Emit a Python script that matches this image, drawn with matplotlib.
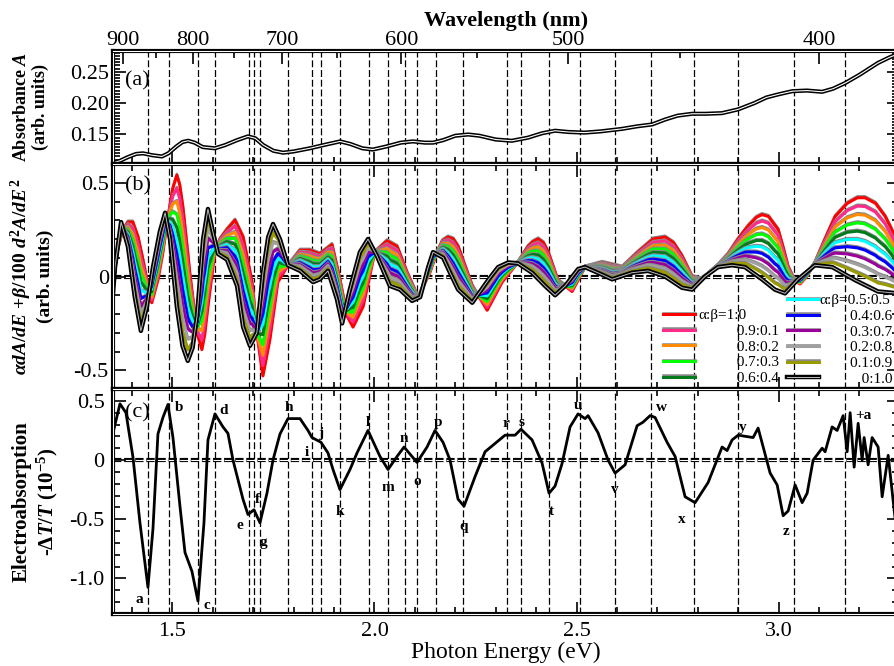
import numpy as np
import matplotlib
matplotlib.use("Agg")
import matplotlib.pyplot as plt
import matplotlib.patheffects as pe
from matplotlib.ticker import FixedLocator, MultipleLocator

plt.rcParams['font.family'] = ['Liberation Serif', 'DejaVu Serif']
plt.rcParams['mathtext.fontset'] = 'custom'
plt.rcParams['mathtext.rm'] = 'Liberation Serif:bold'
plt.rcParams['mathtext.it'] = 'Liberation Serif:italic:bold'
plt.rcParams['mathtext.bf'] = 'Liberation Serif:bold'
plt.rcParams['axes.unicode_minus'] = False
plt.rcParams['lines.scale_dashes'] = False

# ---------------------------------------------------------------- datos
# (a) absorbancia
e_abs = [1.353, 1.37, 1.39, 1.41, 1.427, 1.45, 1.474, 1.49, 1.51, 1.525, 1.539, 1.555, 1.575,
         1.605, 1.63, 1.66, 1.687, 1.705, 1.725, 1.75, 1.774, 1.80, 1.84, 1.88, 1.915, 1.94,
         1.97, 1.996, 2.03, 2.065, 2.095, 2.125, 2.145, 2.17, 2.2, 2.232, 2.26, 2.30, 2.34,
         2.38, 2.415, 2.447, 2.48, 2.52, 2.56, 2.613, 2.65, 2.687, 2.72, 2.75, 2.786, 2.82,
         2.86, 2.90, 2.94, 2.97, 3.00, 3.034, 3.07, 3.108, 3.135, 3.165, 3.20, 3.246, 3.275, 3.298]
absorbancia = [0.105, 0.108, 0.114, 0.119, 0.120, 0.117, 0.115, 0.120, 0.131, 0.138, 0.140, 0.137, 0.130,
               0.128, 0.133, 0.141, 0.147, 0.144, 0.133, 0.124, 0.121, 0.123, 0.128, 0.134, 0.139, 0.135,
               0.128, 0.126, 0.131, 0.137, 0.139, 0.137, 0.137, 0.141, 0.148, 0.150, 0.148, 0.142, 0.140,
               0.145, 0.152, 0.156, 0.154, 0.153, 0.155, 0.159, 0.163, 0.166, 0.174, 0.180, 0.183, 0.183,
               0.184, 0.190, 0.200, 0.209, 0.214, 0.219, 0.220, 0.218, 0.223, 0.232, 0.245, 0.264, 0.273, 0.279]

# (b) curva alfa=1 (dA/dE) y curva beta=1 (d2A/dE2 / 100)
e_rojo = [1.353, 1.365, 1.378, 1.390, 1.402, 1.415, 1.427, 1.437, 1.449, 1.464, 1.476, 1.487, 1.501,
          1.511, 1.518, 1.526, 1.535, 1.543, 1.561, 1.573, 1.580, 1.588, 1.605, 1.618, 1.635, 1.655,
          1.675, 1.697, 1.712, 1.724, 1.741, 1.761, 1.786, 1.816, 1.840, 1.865, 1.895, 1.915, 1.932,
          1.947, 1.972, 2.001, 2.031, 2.056, 2.081, 2.108, 2.137, 2.155, 2.168, 2.182, 2.195, 2.207,
          2.242, 2.279, 2.316, 2.355, 2.380, 2.392, 2.405, 2.418, 2.430, 2.454, 2.489, 2.521, 2.563,
          2.613, 2.652, 2.69, 2.719, 2.74, 2.761, 2.786, 2.811, 2.850, 2.875, 2.900, 2.925, 2.945,
          2.959, 2.975, 2.999, 3.012, 3.024, 3.04, 3.053, 3.07, 3.090, 3.115, 3.140, 3.17, 3.195,
          3.214, 3.24, 3.264, 3.28, 3.298]
deriv1 = [-0.02, 0.15, 0.25, 0.29, 0.29, 0.21, 0.09, -0.02, -0.14, -0.02, 0.12, 0.29, 0.47,
          0.54, 0.49, 0.37, 0.19, 0.02, -0.30, -0.39, -0.31, -0.16, 0.13, 0.20, 0.25, 0.30,
          0.21, -0.03, -0.35, -0.53, -0.34, -0.03, 0.06, 0.14, 0.14, 0.12, 0.17, -0.02, -0.21,
          -0.27, -0.16, 0.13, 0.19, 0.16, 0.02, -0.11, 0.02, 0.13, 0.19, 0.21, 0.20, 0.16,
          -0.05, -0.18, -0.03, 0.075, 0.16, 0.185, 0.20, 0.18, 0.13, -0.02, -0.08, 0.05, 0.075,
          0.05, 0.13, 0.20, 0.21, 0.18, 0.11, 0.0, -0.015, 0.06, 0.12, 0.20, 0.27, 0.315,
          0.33, 0.32, 0.25, 0.15, 0.05, -0.02, -0.04, 0.0, 0.075, 0.20, 0.32, 0.39, 0.42,
          0.42, 0.39, 0.32, 0.25, 0.16]

e_negro = [1.353, 1.358, 1.373, 1.390, 1.407, 1.422, 1.437, 1.452, 1.469, 1.482, 1.494, 1.511, 1.525,
           1.538, 1.550, 1.561, 1.576, 1.588, 1.600, 1.613, 1.635, 1.660, 1.675, 1.692, 1.709, 1.724,
           1.737, 1.749, 1.766, 1.786, 1.816, 1.848, 1.865, 1.885, 1.907, 1.920, 1.939, 1.964, 1.984,
           2.006, 2.038, 2.063, 2.093, 2.113, 2.133, 2.145, 2.170, 2.187, 2.207, 2.242, 2.281, 2.306,
           2.331, 2.355, 2.390, 2.422, 2.447, 2.472, 2.504, 2.521, 2.553, 2.588, 2.637, 2.677, 2.719,
           2.761, 2.786, 2.818, 2.850, 2.885, 2.917, 2.959, 2.991, 3.016, 3.048, 3.090, 3.133, 3.190,
           3.246, 3.298]
deriv2 = [-0.09, 0.05, 0.29, 0.16, -0.11, -0.29, -0.16, 0.05, 0.24, 0.34, 0.20, -0.16, -0.37,
          -0.45, -0.38, -0.21, 0.20, 0.36, 0.24, 0.12, 0.09, -0.05, -0.27, -0.37, -0.30, 0.02,
          0.21, 0.28, 0.20, 0.06, 0.03, -0.03, -0.015, 0.03, -0.12, -0.25, -0.07, 0.13, 0.20,
          0.11, -0.05, -0.07, -0.13, -0.11, 0.05, 0.13, 0.10, 0.02, -0.07, -0.14, -0.02, 0.05,
          0.075, 0.07, 0.02, -0.05, -0.10, -0.05, 0.04, 0.05, 0.02, -0.015, 0.02, 0.03, 0.0,
          -0.06, -0.07, 0.0, 0.05, 0.06, 0.05, -0.015, -0.07, -0.09, -0.015, 0.06, 0.05, -0.02,
          -0.08, -0.09]

alfas = [1.0, 0.9, 0.8, 0.7, 0.6, 0.5, 0.4, 0.3, 0.2, 0.1, 0.0]
colores = ['#ff0000', '#ff2a8a', '#ff8c00', '#00ff00', '#007a1a', '#00ffff',
           '#0000ff', '#990099', '#a0a0a0', '#999900', '#000000']
etiquetas = ['α:β=1:0', '0.9:0.1', '0.8:0.2', '0.7:0.3', '0.6:0.4', 'α:β=0.5:0.5',
             '0.4:0.6', '0.3:0.7', '0.2:0.8', '0.1:0.9', '0:1.0']

# (c) electroabsorcion
e_ea = [1.3528, 1.3702, 1.385, 1.4024, 1.4197, 1.4395, 1.4519, 1.4642, 1.4766, 1.4890, 1.5014, 1.5187,
        1.5311, 1.5484, 1.5632, 1.5781, 1.5880, 1.6053, 1.6251, 1.6375, 1.6499, 1.6746, 1.6870, 1.7019,
        1.7167, 1.7340, 1.7489, 1.7662, 1.7860, 1.8157, 1.8355, 1.8454, 1.8677, 1.8850, 1.8974, 1.9147,
        1.9394, 1.9568, 1.9840, 2.0137, 2.0336, 2.0558, 2.0732, 2.0930, 2.1053, 2.1301, 2.1499, 2.1697,
        2.1870, 2.2068, 2.2217, 2.2489, 2.2737, 2.2984, 2.3231, 2.3479, 2.3627, 2.3900, 2.4147, 2.4320,
        2.4469, 2.4642, 2.4840, 2.5038, 2.5212, 2.5286, 2.5533, 2.5781, 2.5954, 2.6202, 2.6499, 2.6647,
        2.6821, 2.6944, 2.7241, 2.7440, 2.7687, 2.7934, 2.8256, 2.8602, 2.8726, 2.8850, 2.8999, 2.9370,
        2.9494, 2.9791, 2.9965, 3.0113, 3.0237, 3.0410, 3.0583, 3.0707, 3.0855, 3.1078, 3.1152, 3.1325,
        3.1449, 3.1598, 3.1697, 3.1771, 3.1870, 3.1969, 3.2068, 3.2117, 3.2216, 3.2315, 3.2464, 3.2563,
        3.2712, 3.2885]
ea = [0.225, 0.475, 0.40, 0.025, -0.53, -1.075, -0.58, 0.22, 0.36, 0.47, 0.19, -0.39,
      -0.78, -0.94, -1.19, -0.53, 0.17, 0.39, 0.28, 0.225, 0.0, -0.33, -0.46, -0.42,
      -0.53, -0.28, 0.0, 0.22, 0.35, 0.35, 0.25, 0.19, 0.15, 0.06, -0.08, -0.25,
      -0.08, 0.06, 0.25, 0.03, -0.08, 0.03, 0.11, 0.03, -0.02, 0.11, 0.25, 0.15,
      0.0, -0.33, -0.39, -0.14, 0.07, 0.14, 0.21, 0.21, 0.26, 0.17, -0.025, -0.28,
      -0.22, -0.03, 0.28, 0.39, 0.35, 0.375, 0.23, 0.0, -0.11, -0.04, 0.29, 0.32,
      0.375, 0.36, 0.15, 0.03, -0.31, -0.36, -0.19, 0.11, 0.08, 0.17, 0.21, 0.19,
      0.27, -0.11, -0.21, -0.47, -0.43, -0.21, -0.36, -0.28, 0.0, 0.10, 0.07, 0.28,
      0.25, 0.375, 0.07, 0.40, -0.06, 0.31, 0.0, 0.19, -0.04, 0.19, 0.11, -0.31,
      0.04, -0.50]

# lineas verticales discontinuas (energias de las transiciones)
transiciones = [1.44, 1.4915, 1.563, 1.605, 1.6895, 1.702, 1.7167, 1.786, 1.8454, 1.8677, 1.9147,
                1.9865, 2.0336, 2.0756, 2.1053, 2.1524, 2.2192, 2.3281, 2.3628, 2.432, 2.5088,
                2.5954, 2.6845, 2.7909, 2.900, 3.0385, 3.1648]
letras = ['a', 'b', 'c', 'd', 'e', 'f', 'g', 'h', 'i', 'j', 'k', 'l', 'm', 'n', 'o', 'p', 'q',
          'r', 's', 't', 'u', 'v', 'w', 'x', 'y', 'z', '+a']
letras_e = [1.4172, 1.5162, 1.5855, 1.6276, 1.6672, 1.7093, 1.7241, 1.7885, 1.8330, 1.8677, 1.9147,
            1.9840, 2.0336, 2.0732, 2.1053, 2.1573, 2.2217, 2.3256, 2.3627, 2.4370, 2.5038, 2.5954,
            2.7093, 2.7613, 2.9123, 3.0187, 3.2093]
letras_v = [-1.175, 0.442, -1.225, 0.417, -0.55, -0.333, -0.70, 0.442, 0.067, 0.225, -0.433,
            0.317, -0.233, 0.183, -0.183, 0.317, -0.558, 0.308, 0.317, -0.433, 0.458, -0.25,
            0.442, -0.50, 0.275, -0.60, 0.375]

# ---------------------------------------------------------------- figura
fig = plt.figure(figsize=(8.95, 6.66), dpi=100)
izq, ancho = 113 / 895, 786 / 895
ax_a = fig.add_axes([izq, (666 - 164) / 666, ancho, 113 / 666])
ax_b = fig.add_axes([izq, (666 - 389) / 666, ancho, 225 / 666])
ax_c = fig.add_axes([izq, (666 - 614) / 666, ancho, 225 / 666])

doble = [pe.Stroke(linewidth=3.0, foreground='black'), pe.Stroke(linewidth=0.8, foreground='white')]


def estilo(ax):
    # ejes, ticks hacia dentro y lineas verticales
    ax.set_xlim(1.353, 3.298)
    ax.xaxis.set_major_locator(MultipleLocator(0.5))
    ax.xaxis.set_minor_locator(MultipleLocator(0.1))
    ax.tick_params(which='both', direction='in', top=True, bottom=True, left=True, right=True,
                   labelsize=16, width=1.2, pad=3, labelbottom=False)
    ax.tick_params(which='major', length=9)
    ax.tick_params(which='minor', length=5)
    for s in ax.spines.values():
        s.set_linewidth(3)
        s.set_path_effects(doble)
    for e in transiciones:
        ax.axvline(e, color='black', lw=0.9, ls=(0, (5, 2)), zorder=1)


for ax in (ax_a, ax_b, ax_c):
    estilo(ax)

# ---- (a)
ax_a.plot(e_abs, absorbancia, color='black', lw=3, path_effects=doble)
ax_a.set_ylim(0.103, 0.283)
ax_a.set_yticks([0.15, 0.20, 0.25])
ax_a.set_yticklabels(['0.15', '0.20', '0.25'])
ax_a.yaxis.set_minor_locator(MultipleLocator(0.005))
ax_a.tick_params(top=False, which='both')
ax_a.text(0.015, 0.74, '(a)', transform=ax_a.transAxes, fontsize=16, va='center')
ax_a.text(-0.104, 0.5, 'Absorbance $A$\n(arb. units)', transform=ax_a.transAxes, rotation=90,
          ha='center', va='center', fontsize=13, fontweight='bold', multialignment='center',
          linespacing=1.15)


def ev2nm(x):
    x = np.asarray(x, dtype=float)
    with np.errstate(divide='ignore'):
        return np.where(x == 0, np.inf, 1239.84 / x)


sec = ax_a.secondary_xaxis('top', functions=(ev2nm, ev2nm))
sec.set_xticks([900, 800, 700, 600, 500, 400])
sec.xaxis.set_minor_locator(FixedLocator([850, 750, 650, 550, 450]))
sec.tick_params(which='both', direction='in', labelsize=16, width=1.2, pad=1)
sec.tick_params(which='major', length=9)
sec.tick_params(which='minor', length=5)
sec.spines['top'].set_visible(False)
sec.set_xlabel('Wavelength (nm)', fontsize=16, fontweight='bold', labelpad=3)

# ---- (b)
e_b = np.union1d(e_rojo, e_negro)
rojo = np.interp(e_b, e_rojo, deriv1)
negro = np.interp(e_b, e_negro, deriv2)
lineas = []
for alfa, color, etiqueta in zip(alfas, colores, etiquetas):
    if alfa == 0.0:
        efectos = [pe.Stroke(linewidth=3.2, foreground='black'), pe.Stroke(linewidth=0.7, foreground='#bbbbbb')]
        ancho_l = 3.2
    else:
        efectos = [pe.Stroke(offset=(0, 1.0), linewidth=1.8, foreground='#888888'), pe.Normal()]
        ancho_l = 2.2
    l, = ax_b.plot(e_b, alfa * rojo + (1 - alfa) * negro, color=color, lw=ancho_l,
                   path_effects=efectos, label=etiqueta)
    lineas.append(l)

ax_b.axhline(0, color='black', lw=3.2, ls=(0, (6, 2)), zorder=1.5, path_effects=doble)
ax_b.set_ylim(-0.6, 0.6)
ax_b.set_yticks([-0.5, 0, 0.5])
ax_b.set_yticklabels(['-0.5', '0', '0.5'])
ax_b.yaxis.set_minor_locator(MultipleLocator(0.1))
ax_b.text(0.015, 0.905, '(b)', transform=ax_b.transAxes, fontsize=16, va='center')
ax_b.text(-0.104, 0.5, r'$\alpha dA/dE$ +$\beta$/100 $d^2A/dE^2$' + '\n(arb. units)',
          transform=ax_b.transAxes, rotation=90, ha='center', va='center', fontsize=14,
          fontweight='bold', multialignment='center', linespacing=1.15)

# leyenda en dos columnas
pad1 = ['', ' ' * 10, ' ' * 10, ' ' * 10, ' ' * 10]
pad2 = ['', ' ' * 8, ' ' * 8, ' ' * 8, ' ' * 8, ' ' * 11]
leg1 = ax_b.legend(lineas[:5], [p + t for p, t in zip(pad1, etiquetas[:5])], loc='upper left',
                   bbox_to_anchor=(0.6997, 0.357), frameon=False, fontsize=11, handlelength=2.1,
                   handletextpad=0.2, labelspacing=0.13, borderpad=0, borderaxespad=0)
ax_b.add_artist(leg1)
ax_b.legend(lineas[5:], [p + t for p, t in zip(pad2, etiquetas[5:])], loc='upper left',
            bbox_to_anchor=(0.8575, 0.424), frameon=False, fontsize=11, handlelength=2.1,
            handletextpad=0.0, labelspacing=0.13, borderpad=0, borderaxespad=0)

# ---- (c)
ax_c.plot(e_ea, ea, color='black', lw=2)
ax_c.axhline(0, color='black', lw=3.2, ls=(0, (6, 2)), zorder=1.5, path_effects=doble)
ax_c.set_ylim(-1.3, 0.6)
ax_c.set_yticks([-1.0, -0.5, 0, 0.5])
ax_c.set_yticklabels(['-1.0', '-0.5', '0', '0.5'])
ax_c.yaxis.set_minor_locator(MultipleLocator(0.1))
ax_c.tick_params(labelbottom=True, pad=6)
ax_c.set_xticks([1.5, 2.0, 2.5, 3.0])
ax_c.set_xticklabels(['1.5', '2.0', '2.5', '3.0'])
ax_c.set_xlabel('Photon Energy (eV)', fontsize=17, labelpad=0)
ax_c.text(0.015, 0.895, '(c)', transform=ax_c.transAxes, fontsize=16, va='center')
ax_c.text(-0.098, 0.5, 'Electroabsorption\n-$\\Delta T/T$ (10$^{-5}$)', transform=ax_c.transAxes,
          rotation=90, ha='center', va='center', fontsize=15, fontweight='bold',
          multialignment='center', linespacing=1.2)
for letra, x, y in zip(letras, letras_e, letras_v):
    ax_c.text(x, y, letra, fontsize=11, fontweight='bold', ha='center', va='center')

fig.savefig('out.png', dpi=100)
